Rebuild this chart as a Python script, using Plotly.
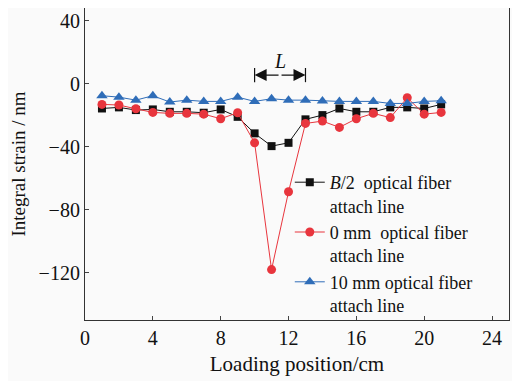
import plotly.graph_objects as go

positions = list(range(1, 22))
b2_line = [-15.7, -15.0, -16.7, -16.3, -17.8, -17.8, -18.4, -16.3, -21.0, -31.5, -39.6,
           -37.5, -22.6, -19.9, -15.7, -17.8, -17.8, -15.0, -15.0, -15.7, -13.1]
mm0_line = [-13.1, -13.5, -15.9, -18.2, -18.8, -18.8, -19.3, -22.2, -18.4, -37.5, -118.0,
            -68.6, -25.2, -23.7, -27.7, -22.2, -18.8, -21.5, -8.9, -19.3, -18.2]
mm10_line = [-7.6, -8.5, -10.4, -7.6, -11.6, -10.4, -11.2, -11.2, -8.5, -11.2, -9.5,
             -10.4, -10.4, -11.0, -11.2, -11.2, -11.2, -12.5, -12.5, -11.2, -10.8]
x_ticks = [0, 4, 8, 12, 16, 20, 24]
y_ticks = [40, 0, -40, -80, -120]
L_start, L_end, L_y = 10, 13, 5.5

FONT = "Liberation Serif"
fig = go.Figure()
fig.add_trace(go.Scatter(x=positions, y=b2_line, mode="lines+markers",
                         name="<i>B</i>/2\u00a0\u00a0optical fiber<br>attach line",
                         line=dict(color="#111111", width=1),
                         marker=dict(symbol="square", size=8, color="#111111")))
fig.add_trace(go.Scatter(x=positions, y=mm0_line, mode="lines+markers",
                         name="0 mm\u00a0\u00a0optical fiber<br>attach line",
                         line=dict(color="#e8353d", width=1),
                         marker=dict(symbol="circle", size=9, color="#e8353d")))
fig.add_trace(go.Scatter(x=positions, y=mm10_line, mode="lines+markers",
                         name="10 mm optical fiber<br>attach line",
                         line=dict(color="#2f6db8", width=1),
                         marker=dict(symbol="triangle-up", size=10, color="#2f6db8")))

mid = (L_start + L_end) / 2
for end in (L_start, L_end):
    fig.add_annotation(x=end, y=L_y, ax=mid, ay=L_y, xref="x", yref="y", axref="x", ayref="y",
                       text="", showarrow=True, arrowhead=2, arrowsize=2, arrowwidth=1.2,
                       arrowcolor="#111111", standoff=0)
    fig.add_shape(type="line", x0=end, x1=end, y0=L_y - 4.5, y1=L_y + 4.5, xref="x", yref="y",
                  line=dict(color="#111111", width=1.2))
fig.add_annotation(x=mid, y=L_y + 9, text="<i>L</i>", showarrow=False, xref="x", yref="y",
                   font=dict(family=FONT, size=20, color="#111111"))

fig.update_layout(
    width=512, height=373,
    margin=dict(l=77, r=11, t=0, b=61, autoexpand=False),
    paper_bgcolor="#fafafa", plot_bgcolor="#fafafa",
    font=dict(family=FONT, size=20, color="#111111"),
    showlegend=True,
    legend=dict(x=0.483, y=0.5, xanchor="left", yanchor="top", bgcolor="rgba(0,0,0,0)",
                font=dict(family=FONT, size=18, color="#111111"), valign="top",
                tracegroupgap=0, itemwidth=30),
)
fig.update_xaxes(range=[0, 25], tickvals=x_ticks, ticks="inside", ticklen=4,
                 showline=True, mirror=True, linecolor="#333333", linewidth=1.2,
                 showgrid=False, zeroline=False, automargin=False,
                 title=dict(text="Loading position/cm", font=dict(family=FONT, size=21), standoff=8))
fig.update_yaxes(range=[-150, 48.1], tickvals=y_ticks, ticks="inside", ticklen=4,
                 showline=True, mirror=True, linecolor="#333333", linewidth=1.2,
                 showgrid=False, zeroline=False, automargin=False,
                 title=dict(text="Integral strain / nm", font=dict(family=FONT, size=19), standoff=9))

fig.write_html("out.html")
